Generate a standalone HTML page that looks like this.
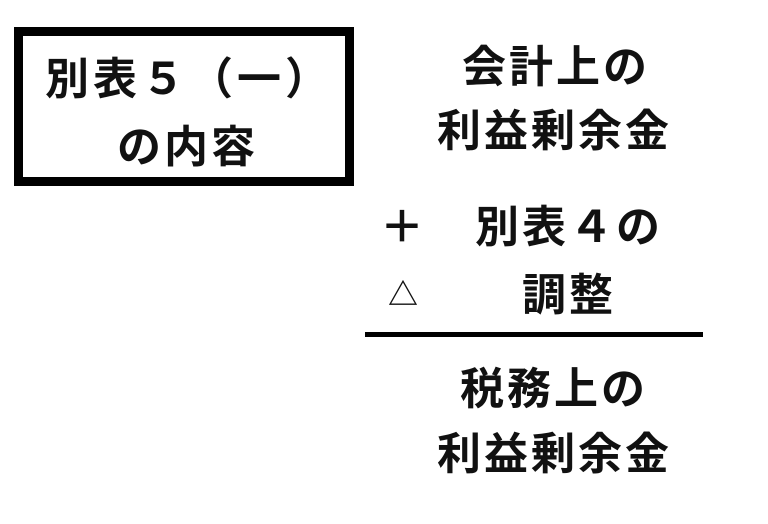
<!DOCTYPE html>
<html><head><meta charset="utf-8"><style>
body{margin:0;width:768px;height:524px;background:#fff;position:relative;overflow:hidden;font-family:"Liberation Sans","Noto Sans CJK JP",sans-serif;color:#111;font-weight:bold}
.t{position:absolute;font-size:44px;line-height:44px;white-space:nowrap;letter-spacing:3px}
.box{position:absolute;left:14px;top:27px;width:322px;height:141px;border:9px solid #000}
</style></head><body>
<div class="box"></div>
<div class="t" style="left:45px;top:58px;letter-spacing:4px">別表５（一）</div>
<div class="t" style="left:117px;top:126px">の内容</div>
<div class="t" style="left:462px;top:46px">会計上の</div>
<div class="t" style="left:437px;top:110px">利益剰余金</div>
<div class="t" style="left:380px;top:206px">＋</div>
<div class="t" style="left:475px;top:206px">別表４の</div>
<div class="t" style="left:388px;top:281px;font-size:30px;line-height:30px">△</div>
<div class="t" style="left:522px;top:274px">調整</div>
<div style="position:absolute;left:365px;top:332px;width:338px;height:5px;background:#000"></div>
<div class="t" style="left:460px;top:368px">税務上の</div>
<div class="t" style="left:437px;top:433px">利益剰余金</div>
</body></html>
